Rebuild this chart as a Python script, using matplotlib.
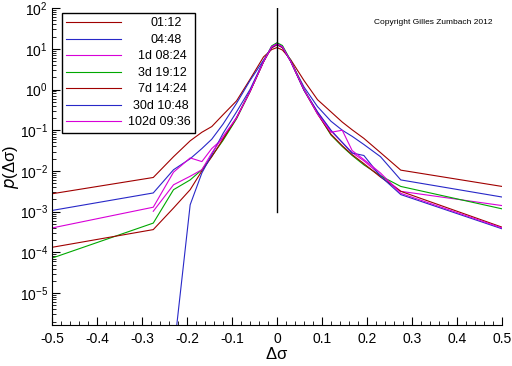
import matplotlib
matplotlib.use("Agg")
import matplotlib.pyplot as plt
import matplotlib.ticker as mticker
import numpy as np

plt.rcParams['font.family'] = ['Liberation Sans', 'DejaVu Sans']
plt.rcParams['mathtext.default'] = 'regular'

# grid of delta sigma values (shared by all curves)
dsig = [-0.5, -0.275, -0.23, -0.193, -0.167, -0.145, -0.12, -0.09, -0.06, -0.03, -0.012, 0.0,
        0.012, 0.03, 0.06, 0.09, 0.12, 0.145, 0.167, 0.193, 0.23, 0.275, 0.5]

# log10 of p(delta sigma)
lp_0112 = [-2.56, -2.16, -1.65, -1.26, -1.05, -0.91, -0.62, -0.28, 0.25, 0.80, 0.98, 1.03,
           0.97, 0.74, 0.22, -0.25, -0.55, -0.80, -0.99, -1.20, -1.55, -1.98, -2.38]
lp_0448 = [-2.97, -2.54, -1.97, -1.70, -1.45, -1.22, -0.85, -0.34, 0.22, 0.72, 1.02, 1.10,
           1.03, 0.70, 0.06, -0.42, -0.78, -1.00, -1.15, -1.35, -1.65, -2.22, -2.64]
lp_1d = [-3.40, -2.89, -2.03, -1.68, -1.77, -1.45, -1.20, -0.68, -0.05, 0.68, 1.04, 1.12,
         1.05, 0.70, 0.00, -0.55, -1.02, -1.30, -1.55, -1.75, -2.10, -2.50, -2.85]
lp_3d = [-4.14, -3.28, -2.46, -2.22, -1.97, -1.64, -1.25, -0.72, -0.05, 0.68, 1.07, 1.15,
         1.08, 0.72, 0.00, -0.58, -1.12, -1.40, -1.62, -1.85, -2.12, -2.38, -2.93]
lp_7d = [-3.875, -3.44, -2.91, -2.46, -2.00, -1.65, -1.22, -0.70, -0.05, 0.68, 1.03, 1.10,
         1.03, 0.70, -0.02, -0.60, -1.10, -1.38, -1.60, -1.82, -2.15, -2.50, -3.38]
lp_30d = [np.nan, np.nan, -6.5, -2.83, -2.05, -1.60, -1.08, -0.55, 0.00, 0.70, 1.05, 1.12,
          1.05, 0.70, -0.02, -0.55, -1.00, -1.30, -1.56, -1.62, -2.13, -2.58, -3.42]
lp_102d = [np.nan, -2.99, -2.34, -2.13, -1.97, -1.56, -1.15, -0.70, -0.05, 0.68, 1.05, 1.12,
           1.05, 0.70, 0.00, -0.60, -1.05, -1.00, -1.50, -1.72, -2.05, -2.55, -3.40]

labels = ["01:12", "04:48", "1d 08:24", "3d 19:12", "7d 14:24", "30d 10:48", "102d 09:36"]
series = [lp_0112, lp_0448, lp_1d, lp_3d, lp_7d, lp_30d, lp_102d]
colors = ["#a00000", "#2828c8", "#d800d8", "#00a800", "#a00000", "#2828c8", "#d800d8"]

fig = plt.figure(figsize=(5.12, 3.66), dpi=100)
ax = fig.add_axes([0.1016, 0.112, 0.8789, 0.866])

for lp, lab, c in zip(series, labels, colors):
    ax.plot(dsig, 10.0 ** np.array(lp), color=c, lw=0.8, label=lab)

ax.plot([0, 0], [1e-3, 1e2], color="black", lw=1)

ax.set_yscale("log")
ax.set_xlim(-0.5, 0.5)
ax.set_ylim(1.65e-6, 1e2)
ax.xaxis.set_major_locator(mticker.MultipleLocator(0.1))
ax.xaxis.set_minor_locator(mticker.MultipleLocator(0.02))
ax.xaxis.set_major_formatter(mticker.FuncFormatter(lambda v, p: "%g" % round(v, 2)))
ax.yaxis.set_major_locator(mticker.LogLocator(base=10, numticks=20))
ax.yaxis.set_minor_locator(mticker.LogLocator(base=10, subs=np.arange(2, 10), numticks=20))
ax.tick_params(which="both", direction="in", labelsize=10)
ax.tick_params(which="major", length=6)
ax.tick_params(which="minor", length=3)
ax.tick_params(axis="x", pad=5)
ax.tick_params(axis="y", pad=3)
for s in ["top", "right"]:
    ax.spines[s].set_visible(False)

ax.set_xlabel(r"$\Delta\sigma$", fontsize=12, labelpad=0)
ax.set_ylabel(r"$\mathit{p}(\Delta\sigma)$", fontsize=12, labelpad=-1)

ax.text(0.715, 0.965, "Copyright Gilles Zumbach 2012", transform=ax.transAxes,
        fontsize=6, va="top")

leg = ax.legend(loc="upper left", bbox_to_anchor=(0.022, 0.984), fontsize=9,
                frameon=True, fancybox=False, edgecolor="black", framealpha=1,
                handlelength=4.4, labelspacing=0.36, borderpad=0.35, handletextpad=0.5,
                borderaxespad=0)
leg.get_frame().set_linewidth(1)

# right-align legend labels
fig.canvas.draw()
r = fig.canvas.get_renderer()
texts = leg.get_texts()
wid = [t.get_window_extent(r).width * 72.0 / fig.dpi for t in texts]
mw = max(wid)
for t, w in zip(texts, wid):
    t.set_x(mw - w)

fig.savefig("out.png", dpi=100)
